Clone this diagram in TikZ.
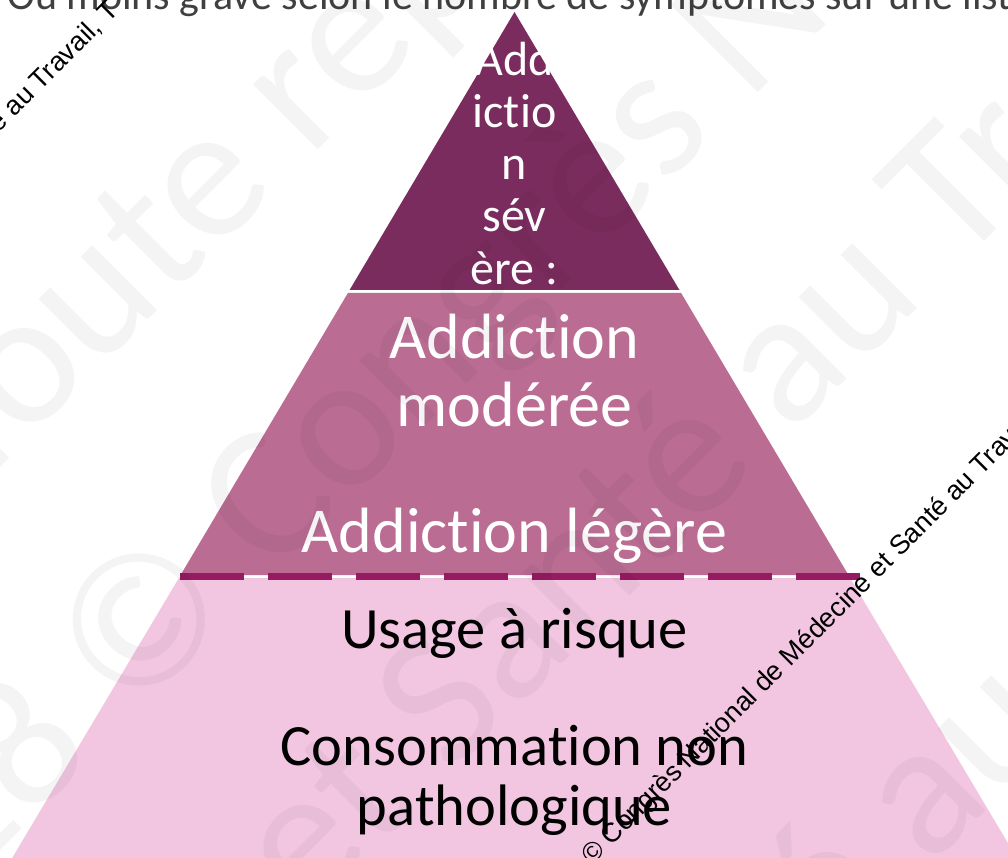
\documentclass[tikz,border=0pt]{standalone}
\usepackage{fontspec}
\setmainfont{Carlito}[RawFeature={-liga;-clig;-dlig;-calt}]
\newfontfamily\arialf{Liberation Sans}
\definecolor{tiertop}{HTML}{7B2C5E}
\definecolor{tiermid}{HTML}{BB6C93}
\definecolor{tierbot}{HTML}{F2C6E1}
\definecolor{dashc}{HTML}{961B62}
\definecolor{headgray}{HTML}{404040}
\begin{document}
\begin{tikzpicture}[x=1pt,y=-1pt,
  toplbl/.style={text=white, anchor=base, inner sep=0pt, font=\fontsize{48}{52}\selectfont},
  midlbl/.style={text=white, anchor=base, inner sep=0pt, font=\fontsize{64}{70}\selectfont},
  botlbl/.style={text=black, anchor=base, inner sep=0pt, font=\fontsize{58.5}{64}\selectfont},
  bigwm/.style={rotate=45, anchor=base west, inner sep=0pt, text=black, text opacity=0.045, font=\fontsize{192}{200}\selectfont},
  smallwm/.style={rotate=45, inner sep=0pt, text=black, font=\arialf\fontsize{27}{30}\selectfont}
]
\useasboundingbox (0,0) rectangle (1008,858);
\clip (0,0) rectangle (1008,858);
\fill[white] (0,0) rectangle (1008,858);
% header line (cut at top)
\node[anchor=base west, inner sep=0pt, text=headgray, font=\fontsize{42}{50}\selectfont] (head) at (7,10) {Ou moins grave selon le nombre de symptômes sur une liste};
% tiers
\fill[tiertop] (514.5,12) -- (679.4,290) -- (349.6,290) -- cycle;
\fill[tiermid] (347.9,293) -- (681.1,293) -- (848.4,575) -- (180.6,575) -- cycle;
\fill[tierbot] (178.9,578) -- (850.1,578) -- (1024,870) -- (5,870) -- cycle;
\draw[dashc, line width=7pt, dash pattern=on 64pt off 24pt] (180,576.5) -- (860,576.5);
% top tier text
\node[toplbl] (t1) at (514.5,76) {Add};
\node[toplbl] (t2) at (514.5,128) {ictio};
\node[toplbl] (t3) at (514.5,180) {n};
\node[toplbl] (t4) at (514.5,232) {sév};
\node[toplbl] (t5) at (514.5,285) {ère :};
% middle tier text
\node[midlbl] (m1) at (514.5,358) {Addiction};
\node[midlbl] (m2) at (514.5,426) {modérée};
\node[midlbl] (m3) at (514.5,552) {Addiction légère};
% bottom tier text
\node[botlbl] (b1) at (514.5,648) {Usage à risque};
\node[botlbl] (b2) at (514.5,765) {Consommation non};
\node[botlbl] (b3) at (514.5,825) {pathologique};
% faint watermark
\node[bigwm] (w1) at (-30,498) {Toute reproduction};
\node[bigwm] (w2) at (-178,1029) {2018 © Congrès National};
\node[bigwm] (w3) at (-273,1499) {Médecine et Santé au Travail};
\node[bigwm] (w4) at (590,1207) {Santé au Travail};
% small black watermark
\node[smallwm, anchor=base west] (s1) at (592,866) {© Congrès National de Médecine et Santé au Travail};
\node[smallwm, anchor=base east] (s2) at (120,12) {© Congrès National de Médecine et Santé au Travail, T};
\end{tikzpicture}
\end{document}
